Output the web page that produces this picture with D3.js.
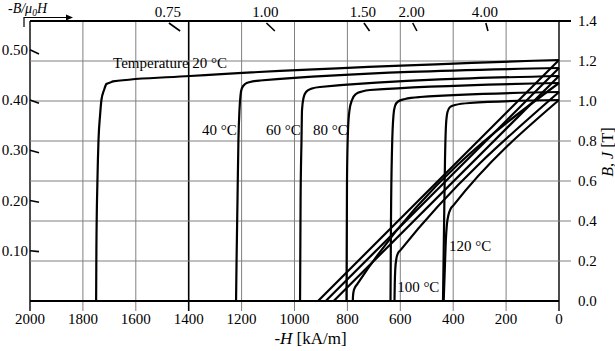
<!DOCTYPE html>
<html>
<head>
<meta charset="utf-8">
<script src="https://cdn.jsdelivr.net/npm/d3@7"></script>
<style>
  body { margin: 0; background: #fff; }
  svg { display: block; font-family: "Liberation Serif", "Times New Roman", serif; }
</style>
</head>
<body>
<div class="chart"></div>
<script>
(function() {
  // values: H in kA/m, B and J in T
  var temps = [20, 40, 60, 80, 100, 120];

  // intrinsic J-H curves, one per temperature
  var jCurves = [
    [[0,1.205],[1395,1.125],[1686,1.098],[1697,1.092],[1711,1.085],[1720,1.055],[1730,1.005],[1735,0.93],[1741,0.805],[1745,0.605],[1749,0.255],[1750,0]],
    [[0,1.165],[1130,1.1025],[1168,1.095],[1187,1.085],[1198.5,1.065],[1204,1.03],[1208,0.955],[1212,0.805],[1215.5,0.505],[1219,0.205],[1221,0]],
    [[0,1.125],[903.6,1.07],[934,1.0625],[956.5,1.045],[966,1.015],[971.6,0.955],[973.5,0.805],[977,0.505],[979,0]],
    [[0,1.09],[714.6,1.055],[744.8,1.0475],[767.5,1.035],[782.6,1.005],[792,0.955],[797.7,0.855],[801.5,0.605],[803.4,0]],
    [[0,1.045],[525.5,1.02],[582.2,1.01],[608.7,0.9975],[620,0.975],[625.7,0.93],[631.4,0.755],[635.2,0.405],[637,0]],
    [[0,1.005],[336.5,0.99],[393.2,0.98],[412,0.97],[421.6,0.945],[427.2,0.88],[431,0.705],[434.8,0.355],[438.6,0]]
  ];

  // normal B-H curves, one per temperature
  var bCurves = [
    [[0,1.205],[911,0]],
    [[0,1.165],[882,0]],
    [[0,1.125],[852,0]],
    [[0,1.09],[764,0.082],[772,0.066],[777,0.045],[779,0.02],[779.5,0]],
    [[0,1.045],[600,0.253],[609,0.238],[615,0.21],[619,0.16],[621,0.08],[622,0]],
    [[0,1.005],[400,0.477],[410,0.46],[418,0.43],[424,0.38],[428,0.3],[432,0.15],[436,0]]
  ];

  var hTicks = [2000, 1800, 1600, 1400, 1200, 1000, 800, 600, 400, 200, 0];
  var bTicks = [0.0, 0.2, 0.4, 0.6, 0.8, 1.0, 1.2, 1.4];
  var pcLeft = [0.10, 0.20, 0.30, 0.40, 0.50];
  var pcTop = [0.75, 1.00, 1.50, 2.00, 4.00];

  // where each temperature label sits, in data units (H, B)
  var tempLabels = [
    {text: "Temperature 20 °C", h: 1686, b: 1.165},
    {text: "40 °C", h: 1350, b: 0.83},
    {text: "60 °C", h: 1108, b: 0.83},
    {text: "80 °C", h: 930, b: 0.83},
    {text: "100 °C", h: 612, b: 0.045},
    {text: "120 °C", h: 416, b: 0.25}
  ];

  var
    width = 615,
    height = 351,
    margin = {top: 21, left: 30, right: 56, bottom: 50},
    mu0 = 4 * Math.PI * 1e-7 * 1000; // T per kA/m

  var svg = d3.select(".chart").append("svg")
    .attr("width", width)
    .attr("height", height);

  var x = d3.scaleLinear().domain([2000, 0]).range([margin.left, width - margin.right]);
  var y = d3.scaleLinear().domain([0, 1.4]).range([height - margin.bottom, margin.top]);

  var x0 = x(2000), x1 = x(0), yTop = y(1.4), yBot = y(0);

  // vertical grid, running a bit below the axis as ticks
  svg.append("g").selectAll("line")
    .data(hTicks).enter()
    .append("line")
      .attr("x1", function(d) { return x(d); })
      .attr("x2", function(d) { return x(d); })
      .attr("y1", yTop)
      .attr("y2", yBot + 10)
      .attr("stroke", function(d) { return (d === 1400 || d === 2000 || d === 0) ? "#000" : "#808080"; })
      .attr("stroke-width", function(d) { return d === 1400 ? 1.6 : (d === 2000 || d === 0 ? 1.4 : 1); });

  // horizontal grid, running past the right axis as ticks
  svg.append("g").selectAll("line")
    .data(bTicks).enter()
    .append("line")
      .attr("x1", x0)
      .attr("x2", function(d) { return d === 0 ? x1 : x1 + 12; })
      .attr("y1", function(d) { return y(d); })
      .attr("y2", function(d) { return y(d); })
      .attr("stroke", function(d) { return (d === 0 || d === 1.4) ? "#000" : "#808080"; })
      .attr("stroke-width", function(d) { return (d === 0 || d === 1.4) ? 2 : 1; });

  // bottom labels
  svg.append("g").selectAll("text")
    .data(hTicks).enter()
    .append("text")
      .attr("x", function(d) { return x(d); })
      .attr("y", yBot + 23)
      .attr("text-anchor", "middle")
      .attr("font-size", 15)
      .text(function(d) { return d; });

  // right labels
  svg.append("g").selectAll("text")
    .data(bTicks).enter()
    .append("text")
      .attr("x", x1 + 19)
      .attr("y", function(d) { return y(d); })
      .attr("dy", "0.35em")
      .attr("font-size", 15)
      .text(function(d) { return d3.format(".1f")(d); });

  // permeance coefficient marks (short pieces of the load lines B = Pc*mu0*H)
  var leftMarks = pcLeft.map(function(pc) {
    var hEnd = x.invert(x0 + 9);
    return {pc: pc, p0: [x0, y(pc * mu0 * 2000)], p1: [x(hEnd), y(pc * mu0 * hEnd)]};
  });
  var topMarks = pcTop.map(function(pc) {
    var bs = 1.39, be = y.invert(y(bs) + 8);
    return {pc: pc, p0: [x(bs / (pc * mu0)), y(bs)], p1: [x(be / (pc * mu0)), y(be)]};
  });
  var marks = leftMarks.concat(topMarks);
  svg.append("g").selectAll("line")
    .data(marks).enter()
    .append("line")
      .attr("x1", function(d) { return d.p0[0]; })
      .attr("y1", function(d) { return d.p0[1]; })
      .attr("x2", function(d) { return d.p1[0]; })
      .attr("y2", function(d) { return d.p1[1]; })
      .attr("stroke", "#000")
      .attr("stroke-width", 1.6);

  svg.append("g").selectAll("text")
    .data(leftMarks).enter()
    .append("text")
      .attr("x", x0 - 2)
      .attr("y", function(d) { return d.p0[1]; })
      .attr("dy", "0.35em")
      .attr("text-anchor", "end")
      .attr("font-size", 15)
      .text(function(d) { return d3.format(".2f")(d.pc); });

  svg.append("g").selectAll("text")
    .data(topMarks).enter()
    .append("text")
      .attr("x", function(d) { return d.p0[0] - 1; })
      .attr("y", yTop - 4)
      .attr("text-anchor", "middle")
      .attr("font-size", 15)
      .text(function(d) { return d3.format(".2f")(d.pc); });

  // curves
  var line = d3.line()
    .x(function(d) { return x(d[0]); })
    .y(function(d) { return y(d[1]); })
    .curve(d3.curveMonotoneX);

  svg.append("g").selectAll("path")
    .data(bCurves.concat(jCurves)).enter()
    .append("path")
      .attr("d", line)
      .attr("fill", "none")
      .attr("stroke", "#000")
      .attr("stroke-width", 2.2)
      .attr("stroke-linejoin", "round");

  // temperature labels
  svg.append("g").selectAll("text")
    .data(tempLabels).enter()
    .append("text")
      .attr("x", function(d) { return x(d.h); })
      .attr("y", function(d) { return y(d.b); })
      .attr("font-size", 15)
      .text(function(d) { return d.text; });

  // left axis title with its corner arrow
  var t = svg.append("text")
    .attr("x", 8)
    .attr("y", 13)
    .attr("font-size", 14)
    .attr("font-style", "italic");
  t.append("tspan").text("-B/μ");
  t.append("tspan").attr("dy", 2.5).attr("font-size", 9.5).text("0");
  t.append("tspan").attr("dy", -2.5).text("H");

  svg.append("path")
    .attr("d", "M24," + (yTop + 6) + "V17.5H67")
    .attr("fill", "none")
    .attr("stroke", "#000")
    .attr("stroke-width", 1.2);
  svg.append("path")
    .attr("d", "M66,14.5L73,17.5L66,20.5Z")
    .attr("fill", "#000");

  // bottom axis title
  var xt = svg.append("text")
    .attr("x", (x0 + x1) / 2 + 16)
    .attr("y", height - 7)
    .attr("text-anchor", "middle")
    .attr("font-size", 17);
  xt.append("tspan").text("-");
  xt.append("tspan").attr("font-style", "italic").text("H");
  xt.append("tspan").text(" [kA/m]");

  // right axis title
  var yt = svg.append("text")
    .attr("transform", "translate(" + (width - 2) + "," + 152 + ") rotate(-90)")
    .attr("text-anchor", "middle")
    .attr("font-size", 16);
  yt.append("tspan").attr("font-style", "italic").text("B");
  yt.append("tspan").text(", ");
  yt.append("tspan").attr("font-style", "italic").text("J");
  yt.append("tspan").text(" [T]");
})();
</script>
</body>
</html>
